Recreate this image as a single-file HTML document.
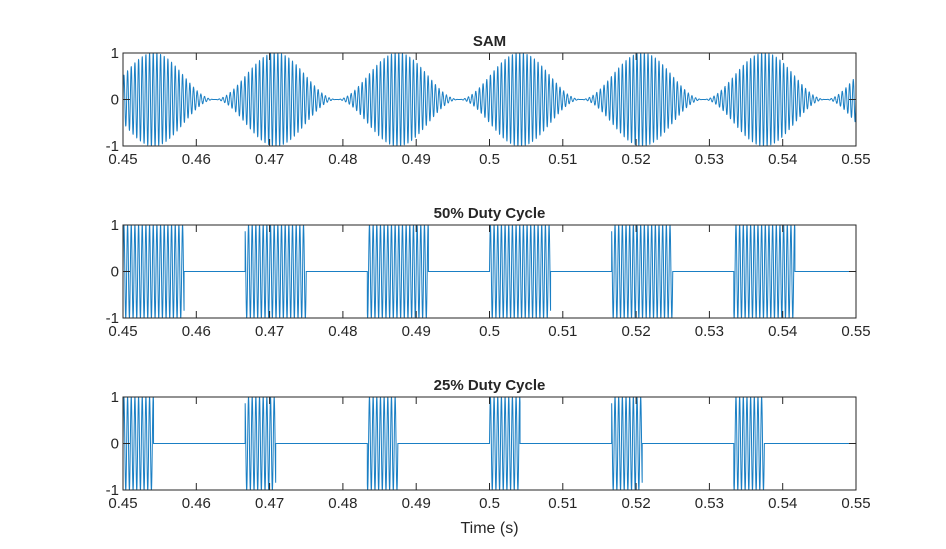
<!DOCTYPE html>
<html><head><meta charset="utf-8"><style>
body{margin:0;background:#fff;width:946px;height:544px;overflow:hidden}
text{font-family:"Liberation Sans",Arial,sans-serif;fill:#262626}
</style></head><body>
<svg id="fig" width="946" height="544" xmlns="http://www.w3.org/2000/svg"></svg>
<script>
const plotTitles = ["SAM", "50% Duty Cycle", "25% Duty Cycle"];
const dutyCycles = [null, 0.5, 0.25];
const carrierHz = [2000];
const modHz = [60];
const xTicks = [0.45,0.46,0.47,0.48,0.49,0.5,0.51,0.52,0.53,0.54,0.55];
const xTickLabels = ["0.45","0.46","0.47","0.48","0.49","0.5","0.51","0.52","0.53","0.54","0.55"];
const yTicks = [-1,0,1];
const yTickLabels = ["-1","0","1"];
const xRange = [0.45,0.55];

const NS="http://www.w3.org/2000/svg";
const svg=document.getElementById('fig');
const L=123,R=856;
const tops=[53,225,397], H=93;
function mk(t,a,p){const e=document.createElementNS(NS,t);for(const k in a)e.setAttribute(k,a[k]);(p||svg).appendChild(e);return e;}
const xs=t=>L+(t-xRange[0])/(xRange[1]-xRange[0])*(R-L);
function signal(i,t){
  const c=Math.sin(2*Math.PI*carrierHz[0]*t);
  if(dutyCycles[i]===null){return c*(1+Math.sin(2*Math.PI*modHz[0]*t))/2;}
  let ph=(t*modHz[0])%1; if(ph<0)ph+=1;
  return ph<dutyCycles[i]?c:0;
}
plotTitles.forEach((title,i)=>{
  const T=tops[i], B=T+H;
  const ys=v=>T+(1-v)/2*H;
  const g=mk('g',{});
  
  
  const N=30000;let pts=[];
  for(let k=0;k<=N;k++){const t=xRange[0]+(xRange[1]-xRange[0])*k/N;pts.push(xs(t).toFixed(2)+','+ys(signal(i,t)).toFixed(2));}
  const pl=mk('polyline',{points:pts.join(' '),fill:'none',stroke:'#1a7fc4','stroke-width':1},g);
  
  
  const bx=mk('rect',{x:L,y:T,width:R-L,height:H,fill:'none',stroke:'#262626','stroke-width':1},g);
  
  
  xTicks.forEach((v,j)=>{
    const x=xs(v);
    mk('line',{x1:x,x2:x,y1:B,y2:B-7,stroke:'#262626'},g);
    mk('line',{x1:x,x2:x,y1:T,y2:T+7,stroke:'#262626'},g);
    const tx=mk('text',{x:x,y:B+18,'text-anchor':'middle','font-size':15},g);
    tx.textContent=xTickLabels[j];
    
    
  });
  yTicks.forEach((v,j)=>{
    const y=ys(v);
    mk('line',{x1:L,x2:L+7,y1:y,y2:y,stroke:'#262626'},g);
    mk('line',{x1:R,x2:R-7,y1:y,y2:y,stroke:'#262626'},g);
    const tx=mk('text',{x:L-4,y:y+5,'text-anchor':'end','font-size':15},g);
    tx.textContent=yTickLabels[j];
    
    
  });
  const tt=mk('text',{x:(L+R)/2,y:T-7,'text-anchor':'middle','font-size':15,'font-weight':'bold'},g);
  tt.textContent=title;
  
  
});
const xl=mk('text',{x:(L+R)/2,y:533,'text-anchor':'middle','font-size':16});
xl.textContent="Time (s)";


</script>
</body></html>
